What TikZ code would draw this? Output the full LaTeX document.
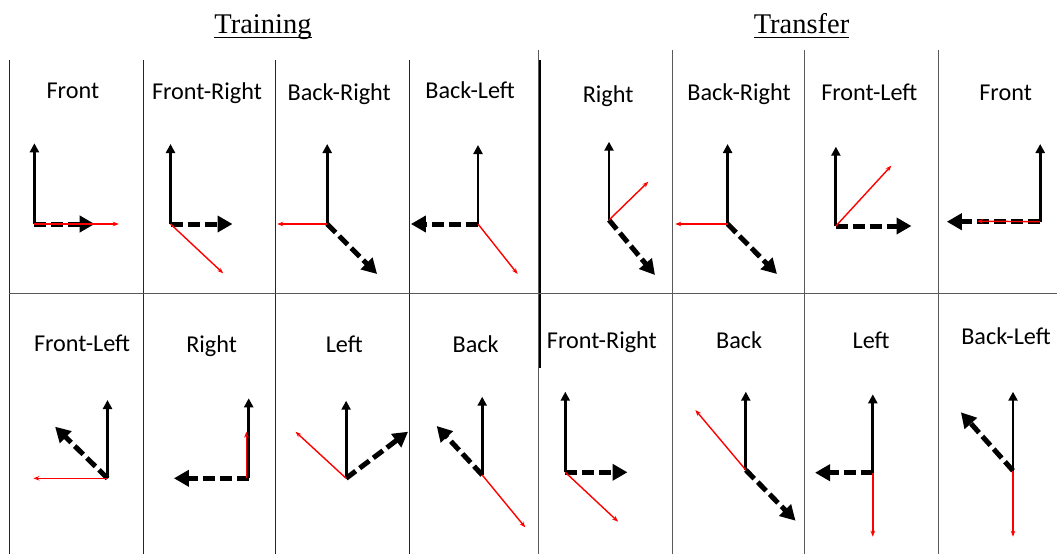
\documentclass[tikz,border=0pt]{standalone}
\usepackage{fontspec}
\setmainfont{Carlito}
\newfontfamily\titlefont{Liberation Serif}
\usetikzlibrary{arrows.meta}
\newcommand\axcell[8]{%
  \coordinate (#1o) at (#2,#3);
  \coordinate (#1u) at (#2,#4);
  \coordinate (#1d) at (#5,#6);
  \coordinate (#1r) at (#7,#8);
  \draw[axisup] (#1o) -- (#1u);
  \draw[heading] (#1o) -- (#1d);
  \draw[redarr] (#1o) -- (#1r);
}
\begin{document}
\begin{tikzpicture}[x=1pt,y=-1pt,
  gridA/.style={draw=black!85, line width=0.9pt},
  gridB/.style={draw=black!65, line width=0.9pt},
  lbl/.style={anchor=base, inner sep=0pt, font=\fontsize{24.2}{28}\selectfont},
  ttl/.style={anchor=base, inner sep=0pt, font=\titlefont\fontsize{28.5}{32}\selectfont},
  axisup/.style={line width=2.9pt, -{Triangle[length=9pt,width=9pt]}},
  heading/.style={line width=5pt, dash pattern=on 12pt off 5pt, -{Triangle[length=15pt,width=16pt]}},
  redarr/.style={red, line width=1.4pt, -{Stealth[length=6pt,width=4.5pt]}}
]
\useasboundingbox (0,0) rectangle (1057,554);
\fill[white] (0,0) rectangle (1057,554);

% grid
\foreach \x in {9.3,143.3,275.5,409.5} \draw[gridA] (\x,60) -- (\x,554);
\foreach \x in {672.8,804.6,938.7} \draw[gridB] (\x,50) -- (\x,554);
\draw[gridB] (538.5,50) -- (538.5,554);
\draw[black, line width=1.8pt] (539.8,60) -- (539.8,368);
\draw[gridB] (9.3,293.3) -- (1057,293.3);

% titles
\node[ttl] (t1) at (263,33.3) {Training};
\node[ttl] (t2) at (801.5,33.3) {Transfer};
\draw[line width=1.2pt] ([yshift=-4pt]t1.base west) -- ([yshift=-4pt]t1.base east);
\draw[line width=1.2pt] ([yshift=-4pt]t2.base west) -- ([yshift=-4pt]t2.base east);

% labels row 1
\node[lbl] (l1) at (72.9,98.7) {Front};
\node[lbl] (l2) at (207,99) {Front-Right};
\node[lbl] (l3) at (339.2,100) {Back-Right};
\node[lbl] (l4) at (470.1,98) {Back-Left};
\node[lbl] (l5) at (608.1,102) {Right};
\node[lbl] (l6) at (739,100) {Back-Right};
\node[lbl] (l7) at (869.3,100) {Front-Left};
\node[lbl] (l8) at (1005.6,100) {Front};
% labels row 2
\node[lbl] (m1) at (82.1,351.7) {Front-Left};
\node[lbl] (m2) at (211.6,352.7) {Right};
\node[lbl] (m3) at (344.2,352) {Left};
\node[lbl] (m4) at (475.6,352) {Back};
\node[lbl] (m5) at (601.9,348.3) {Front-Right};
\node[lbl] (m6) at (739.2,348) {Back};
\node[lbl] (m7) at (871.1,348) {Left};
\node[lbl] (m8) at (1006,344) {Back-Left};

% row 1 arrows
\axcell{a}{34.4}{224}{143.3}{94.7}{224}{118.8}{224}
\axcell{b}{170.5}{224}{144}{232.5}{224}{223.2}{273.3}
\axcell{c}{327.2}{224}{144}{377.1}{274}{277.2}{224}
\axcell{d}{478}{224}{145}{410.9}{224}{517.6}{274}
\axcell{e}{609}{220}{141.7}{655}{275}{648.3}{181.7}
\axcell{f}{727.6}{224}{144}{777}{274}{675.2}{224}
\axcell{g}{835.9}{226}{146.7}{911.5}{226}{891.3}{165.7}
\axcell{h}{1040.2}{221.7}{144}{946.8}{221.7}{977}{221.2}

% row 2 arrows
\axcell{i}{107.5}{478.3}{400}{55.1}{426.7}{33.4}{478.3}
\coordinate (jo) at (248.7,478.3);
\coordinate (ju) at (248.7,398.3);
\coordinate (jd) at (173.9,478.3);
\coordinate (jrs) at (246.4,478.3);
\coordinate (jr) at (246.4,431.7);
\draw[axisup] (jo) -- (ju);
\draw[heading] (jo) -- (jd);
\draw[redarr] (jrs) -- (jr);
\axcell{k}{346.1}{478.3}{400.7}{408.1}{431.7}{295.5}{431.7}
\axcell{l}{482.2}{475}{396.7}{436.7}{426}{525.2}{527.3}
\axcell{n}{565.3}{472.3}{391.7}{627.5}{472.3}{618.1}{521.7}
\axcell{p}{745.8}{470}{391.7}{795.5}{520.7}{695.4}{410}
\axcell{q}{872.8}{472.7}{394.3}{815}{472.7}{872.8}{536.7}
\axcell{s}{1013}{470.7}{391.7}{960.9}{412.3}{1013}{536.7}
\end{tikzpicture}
\end{document}
